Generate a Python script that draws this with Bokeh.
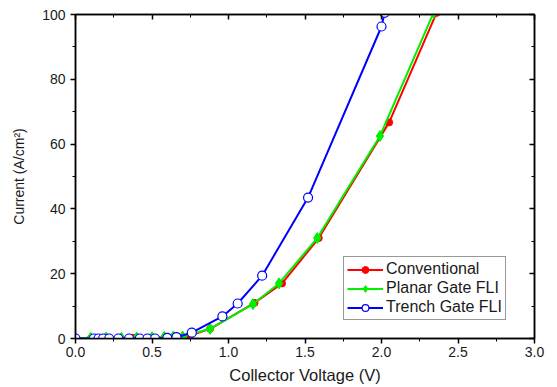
from bokeh.plotting import figure
from bokeh.models import Range1d, LinearAxis, FixedTicker, Legend, LegendItem
from bokeh.embed import file_html
from bokeh.resources import INLINE

# Data
conv_x = [0.0, 0.1, 0.2, 0.38, 0.5, 0.6, 0.68, 0.75, 0.88, 1.17, 1.35, 1.59, 2.05, 2.36]
conv_y = [0.0, 0.0, 0.0, 0.2, 0.2, 0.2, 0.2, 0.9, 3.0, 11.0, 17.0, 31.0, 66.7, 100.5]
planar_x = [0.0, 0.1, 0.2, 0.3, 0.4, 0.5, 0.58, 0.64, 0.70, 0.88, 1.16, 1.33, 1.58, 1.99, 2.34]
planar_y = [0.0, 0.2, 0.3, 0.2, 0.3, 0.4, 0.5, 0.6, 0.6, 3.0, 10.6, 17.0, 31.0, 62.5, 100.5]
trench_x = [0.0, 0.12, 0.15, 0.18, 0.22, 0.28, 0.35, 0.42, 0.47, 0.52, 0.6, 0.66, 0.76, 0.96, 1.06, 1.22, 1.52, 2.0, 2.02]
trench_y = [0.0, 0.0, 0.0, 0.0, 0.0, 0.0, 0.0, 0.0, 0.0, 0.0, 0.2, 0.4, 1.8, 6.8, 10.8, 19.4, 43.5, 96.3, 100.5]

x_major = [0.0, 0.5, 1.0, 1.5, 2.0, 2.5, 3.0]
x_minor = [0.25, 0.75, 1.25, 1.75, 2.25, 2.75]
y_major = [0, 20, 40, 60, 80, 100]
y_minor = [10, 30, 50, 70, 90]

p = figure(width=557, height=387, output_backend="svg", toolbar_location=None,
           x_range=Range1d(0, 3.0), y_range=Range1d(0, 100),
           min_border_left=75, min_border_right=23, min_border_top=14, min_border_bottom=49)
p.xgrid.visible = False
p.ygrid.visible = False
p.outline_line_color = "black"
p.outline_line_width = 1.5
p.background_fill_color = "white"
p.border_fill_color = "white"

FONT = "Liberation Sans"
TXT = "#1a1a1a"
for ax in (p.xaxis[0], p.yaxis[0]):
    ax.major_label_text_font = FONT
    ax.major_label_text_font_size = "14px"
    ax.major_label_text_color = TXT
    ax.axis_label_text_font = FONT
    ax.axis_label_text_font_style = "normal"
    ax.axis_label_text_color = TXT
    ax.major_tick_out = 5
    ax.major_tick_in = 0
    ax.minor_tick_out = 3
    ax.minor_tick_in = 0
    ax.axis_line_width = 1.5
    ax.major_tick_line_width = 1.5

p.xaxis[0].ticker = FixedTicker(ticks=x_major, minor_ticks=x_minor)
p.yaxis[0].ticker = FixedTicker(ticks=y_major, minor_ticks=y_minor)
p.xaxis[0].axis_label = "Collector Voltage (V)"
p.xaxis[0].axis_label_text_font_size = "16.5px"
p.xaxis[0].major_label_standoff = 3
p.xaxis[0].axis_label_standoff = 6
p.yaxis[0].axis_label = "Current (A/cm²)"
p.yaxis[0].axis_label_text_font_size = "14px"
p.yaxis[0].major_label_standoff = 5
p.yaxis[0].axis_label_standoff = 12
p.xaxis[0].major_label_overrides = {0.0: "0.0", 1.0: "1.0", 2.0: "2.0", 3.0: "3.0"}

top = LinearAxis(ticker=FixedTicker(ticks=x_major, minor_ticks=x_minor),
                 major_label_overrides={t: "" for t in x_major},
                 major_label_text_color=None,
                 major_tick_in=5, major_tick_out=0,
                 minor_tick_in=3, minor_tick_out=0, axis_line_width=1.5, major_tick_line_width=1.5,
                 major_label_standoff=0)
right = LinearAxis(ticker=FixedTicker(ticks=y_major, minor_ticks=y_minor),
                   major_label_overrides={t: "" for t in y_major},
                   major_label_text_color=None,
                   major_tick_in=5, major_tick_out=0,
                   minor_tick_in=3, minor_tick_out=0, axis_line_width=1.5, major_tick_line_width=1.5,
                   major_label_standoff=0)
p.add_layout(top, "above")
p.add_layout(right, "right")

r1l = p.line(conv_x, conv_y, line_color="#ff0000", line_width=2)
r1m = p.scatter(conv_x, conv_y, marker="circle", size=7, fill_color="#ff0000", line_color="#ff0000")
r2l = p.line(planar_x, planar_y, line_color="#00f000", line_width=2)
r2m = p.scatter(planar_x, planar_y, marker="diamond", size=11, fill_color="#00f000", line_color="#00f000")
r3l = p.line(trench_x, trench_y, line_color="#0000ff", line_width=2)
r3m = p.scatter(trench_x, trench_y, marker="circle", size=9, fill_color="white", line_color="#0000ff", line_width=1.2)

legend = Legend(items=[
    LegendItem(label="Conventional", renderers=[r1l, r1m]),
    LegendItem(label="Planar Gate FLI", renderers=[r2l, r2m]),
    LegendItem(label="Trench Gate FLI", renderers=[r3l, r3m]),
], location=(268, 18))
legend.label_text_font = FONT
legend.label_text_font_size = "16px"
legend.label_text_color = TXT
legend.border_line_color = "#333333"
legend.border_line_width = 1
legend.glyph_width = 36
legend.glyph_height = 17
legend.label_height = 17
legend.spacing = 1
legend.padding = 3
legend.margin = 0
legend.label_standoff = 3
legend.background_fill_alpha = 1
p.add_layout(legend, "center")

open("out.html", "w").write(file_html(p, INLINE))
